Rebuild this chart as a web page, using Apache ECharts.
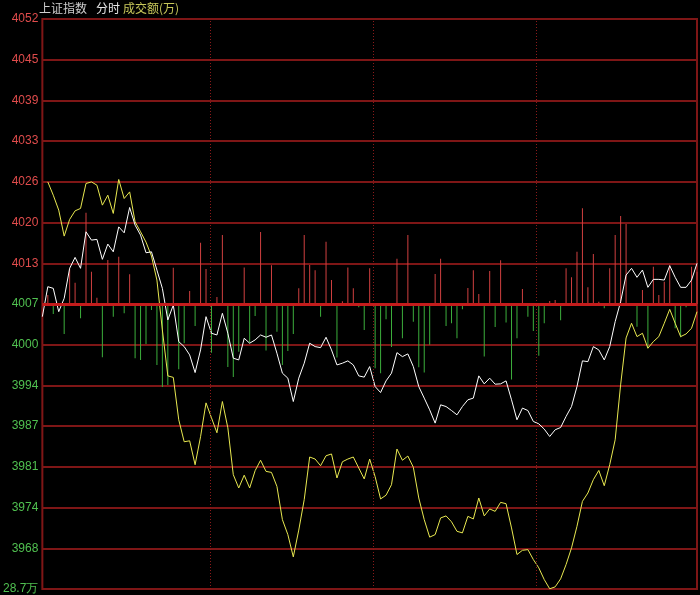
<!DOCTYPE html>
<html>
<head>
<meta charset="utf-8">
<style>
html,body{margin:0;padding:0;background:#000;}
#chart{width:700px;height:595px;}
</style>
<script src="https://cdn.jsdelivr.net/npm/echarts@6/dist/echarts.min.js"></script>
</head>
<body>
<div id="chart"></div>
<script>
// ---- data ----
const tickLabels = ['28.7万','3968','3974','3981','3987','3994','4000','4007','4013','4020','4026','4033','4039','4045','4052'];
const priceMin = 3962, priceMax = 4052;
const volumeScale = 28.7;
const sessionMarks = [30.865, 60.73, 90.59];

const indexLine = [
4005.00,4009.73,4009.47,4005.79,4007.90,4012.63,4014.36,4012.63,4018.40,4017.09,
4017.20,4014.05,4016.46,4015.24,4019.18,4018.24,4022.24,4019.45,4017.88,4015.09,
4015.24,4012.36,4009.47,4004.48,4006.84,4001.06,4000.27,3998.96,3996.17,3999.75,
4005.00,4002.38,4002.11,4005.53,4002.38,3998.44,3998.17,4001.59,4000.81,4001.33,
4002.11,4001.75,4002.11,3999.23,3996.08,3995.29,3991.60,3995.29,3997.65,4000.81,
4000.27,4000.11,4001.75,3999.75,3997.38,3997.65,3998.02,3997.38,3995.65,3995.45,
3997.12,3993.96,3993.02,3994.86,3996.08,3999.32,3998.69,3999.12,3997.12,3993.96,
3992.14,3990.29,3988.19,3991.08,3990.81,3990.18,3989.50,3990.81,3991.87,3992.14,
3995.65,3994.39,3995.29,3994.34,3994.39,3994.86,3991.87,3988.72,3990.56,3990.18,
3988.45,3988.08,3987.25,3986.08,3987.14,3987.50,3989.24,3990.81,3993.96,3998.02,
3997.90,4000.27,3999.75,3998.17,4000.27,4004.21,4007.36,4011.57,4012.63,4011.21,
4012.36,4009.63,4010.89,4010.89,4010.78,4013.04,4011.21,4009.63,4009.63,4010.78,
4013.42];

const yellowLine = [
null,4026.28,4024.18,4021.82,4017.72,4020.35,4021.71,4022.09,4026.03,4026.28,
4025.76,4022.61,4024.18,4021.30,4026.66,4023.66,4024.70,4019.97,4018.40,4016.77,
4014.57,4010.78,4002.90,3995.65,3995.41,3988.72,3985.25,3985.40,3981.62,3986.04,
3991.39,3989.03,3986.67,3991.60,3987.45,3980.05,3977.95,3979.97,3977.95,3980.68,
3982.33,3980.57,3980.41,3978.20,3972.95,3970.59,3967.07,3971.30,3976.10,3982.84,
3982.52,3981.46,3983.04,3983.32,3979.53,3982.09,3982.52,3982.84,3981.10,3979.38,
3982.52,3979.73,3976.22,3976.81,3978.47,3984.10,3982.33,3982.99,3981.23,3976.37,
3972.95,3970.19,3970.59,3973.22,3973.54,3972.61,3971.11,3970.86,3973.47,3973.06,
3976.37,3973.54,3974.64,3974.26,3975.68,3975.47,3971.64,3967.44,3968.11,3968.22,
3966.65,3965.34,3963.49,3962.03,3962.34,3963.60,3965.86,3968.49,3971.90,3975.84,
3977.16,3979.26,3980.72,3978.31,3981.62,3985.56,3994.23,4001.64,4003.96,4001.85,
4002.38,4000.02,4001.06,4001.85,4003.96,4006.16,4003.96,4001.85,4002.27,4003.17,
4005.79];

const volumeBars = [
0,0.91,-1.01,0,-3.02,3.59,2.14,-1.44,9.19,3.25,
0.63,-5.37,4.43,-1.28,4.76,-0.94,2.99,-5.47,-5.64,-4.03,
-0.60,-6.14,-8.36,-8.16,3.66,-6.58,-3.96,1.31,-2.22,6.17,
3.52,-4.90,0.70,6.95,-6.34,-7.35,-4.80,3.68,-3.90,-1.21,
7.25,-4.68,3.90,-2.79,-6.14,-4.73,-3.02,1.58,6.95,3.93,
3.40,-1.28,6.27,2.42,-5.39,0.27,3.68,1.58,-0.33,-2.62,
3.59,-6.47,-6.98,-1.53,-4.33,4.55,-3.45,6.95,-1.78,-6.37,
-6.90,-4.10,3.02,4.56,-2.22,-1.94,-3.45,-0.53,1.61,3.39,
1.01,-5.29,3.32,-2.32,4.40,-1.86,-7.60,-3.45,1.51,-1.28,
-2.72,-5.21,-1.94,0.30,0.40,-1.64,3.59,2.69,5.27,9.64,
1.68,5.04,0.23,-0.43,3.59,6.95,8.86,8.06,0,-2.29,
1.41,-4.46,3.76,0.91,2.25,3.93,-2.45,-3.35,-0.33,3.76,
3.25];

const basePrice = 4007;
const titleParts = [
  {text:'上证指数', color:'#cfcfcf'},
  {text:'分时', color:'#e6e6e6'},
  {text:'成交额(万)', color:'#c8c85a'}
];

// ---- chart ----
const pairs = arr => arr.map((v, i) => [i, v]);
const gridColor = '#7e1616';

const chart = echarts.init(document.getElementById('chart'), null, {renderer:'canvas'});
chart.setOption({
  backgroundColor:'#000000',
  animation:false,
  grid:{left:38, right:3, top:19, bottom:5, show:true, borderColor:gridColor, borderWidth:2, backgroundColor:'transparent'},
  graphic:[
    {type:'text', left:39, top:2, style:{text:titleParts[0].text, fill:titleParts[0].color, font:'12px "Noto Sans CJK SC", sans-serif'}},
    {type:'text', left:96, top:2, style:{text:titleParts[1].text, fill:titleParts[1].color, font:'12px "Noto Sans CJK SC", sans-serif'}},
    {type:'text', left:123, top:2, style:{text:titleParts[2].text, fill:titleParts[2].color, font:'12px "Noto Sans CJK SC", sans-serif'}}
  ],
  xAxis:{type:'value', min:0, max:indexLine.length-1, show:false},
  yAxis:[
    {type:'value', min:0, max:tickLabels.length-1, interval:1, position:'left',
     axisLine:{show:false}, axisTick:{show:false},
     splitLine:{show:true, lineStyle:{color:gridColor, width:2}},
     axisLabel:{margin:4, fontSize:12, fontFamily:'"Liberation Sans", Arial, sans-serif',
       formatter:(v)=>tickLabels[v],
       color:(v)=>{
         if (v===0) return '#e0e0a0';
         if (v===7) return '#e8e8e8';
         return v>7 ? '#e04c4c' : '#50c050'; }}},
    {type:'value', min:priceMin, max:priceMax, show:false},
    {type:'value', min:-volumeScale, max:volumeScale, show:false}
  ],
  series:[
    {type:'bar', xAxisIndex:0, yAxisIndex:2, barWidth:1, silent:true,
     data:pairs(volumeBars),
     itemStyle:{color:(p)=> p.value[1] >= 0 ? '#d04040' : '#3cae3c'},
     markLine:{silent:true, symbol:'none', label:{show:false},
       lineStyle:{color:'#8a1a1a', type:[1,2], width:1},
       data:sessionMarks.map(x=>({xAxis:x}))}
    },
    {type:'line', xAxisIndex:0, yAxisIndex:1, data:[], silent:true,
     markLine:{silent:true, symbol:'none', label:{show:false},
       lineStyle:{color:'#c41c1c', type:'solid', width:3},
       data:[{yAxis:basePrice}]}},
    {type:'line', xAxisIndex:0, yAxisIndex:1, data:pairs(yellowLine), showSymbol:false, silent:true,
     connectNulls:false, lineStyle:{color:'#e8e850', width:1}},
    {type:'line', xAxisIndex:0, yAxisIndex:1, data:pairs(indexLine), showSymbol:false, silent:true,
     lineStyle:{color:'#ffffff', width:1}}
  ]
});
</script>
</body>
</html>
